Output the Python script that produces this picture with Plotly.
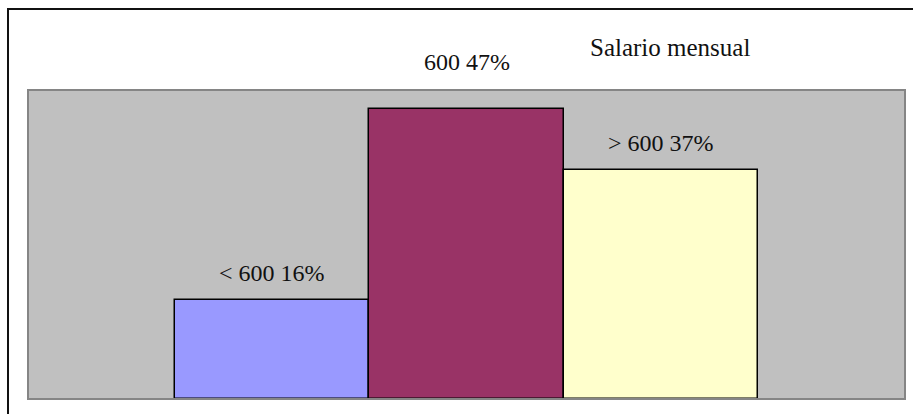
import plotly.graph_objects as go

categories = ["< 600", "600", "> 600"]
percentages = [16, 47, 37]
bar_colors = ["#9999FF", "#993366", "#FFFFCC"]
label_shift = [12, 32, 12]
title_text = "Salario mensual"

FONT = "Liberation Serif, Times New Roman, serif"

fig = go.Figure()
fig.add_trace(go.Bar(
    x=categories,
    y=percentages,
    marker=dict(color=bar_colors, line=dict(color="#000000", width=1.5)),
    hoverinfo="skip",
))

for i, (c, v, s) in enumerate(zip(categories, percentages, label_shift)):
    fig.add_annotation(
        x=i, y=v, xref="x", yref="y",
        text=f"{c} {v}%",
        showarrow=False, yanchor="bottom", xanchor="center",
        yshift=s,
        font=dict(family=FONT, size=24, color="#111111"),
    )

# title
fig.add_annotation(
    x=0.6385, y=1.0, xref="paper", yref="paper",
    text=title_text, showarrow=False,
    xanchor="left", yanchor="bottom", yshift=27,
    font=dict(family=FONT, size=25, color="#111111"),
)

# plot-area border
fig.add_shape(type="rect", xref="paper", yref="paper", x0=0, y0=0, x1=1, y1=1,
              line=dict(color="#858585", width=2), layer="above")
# outer chart border (left and top visible)
fig.add_shape(type="rect", xref="paper", yref="paper", x0=-0.0228, y0=-0.2, x1=1.2, y1=1.262,
              line=dict(color="#111111", width=2), layer="above")

fig.update_layout(
    width=913, height=414,
    margin=dict(l=28, r=8, t=90, b=15, pad=0),
    paper_bgcolor="#FFFFFF",
    plot_bgcolor="#C0C0C0",
    bargap=0,
    showlegend=False,
    xaxis=dict(type="category", range=[-1.26, 3.26], showticklabels=False, showgrid=False,
               zeroline=False, showline=False, ticks=""),
    yaxis=dict(range=[0, 50], showticklabels=False, showgrid=False,
               zeroline=False, showline=False, ticks=""),
)

fig.write_html("out.html")
